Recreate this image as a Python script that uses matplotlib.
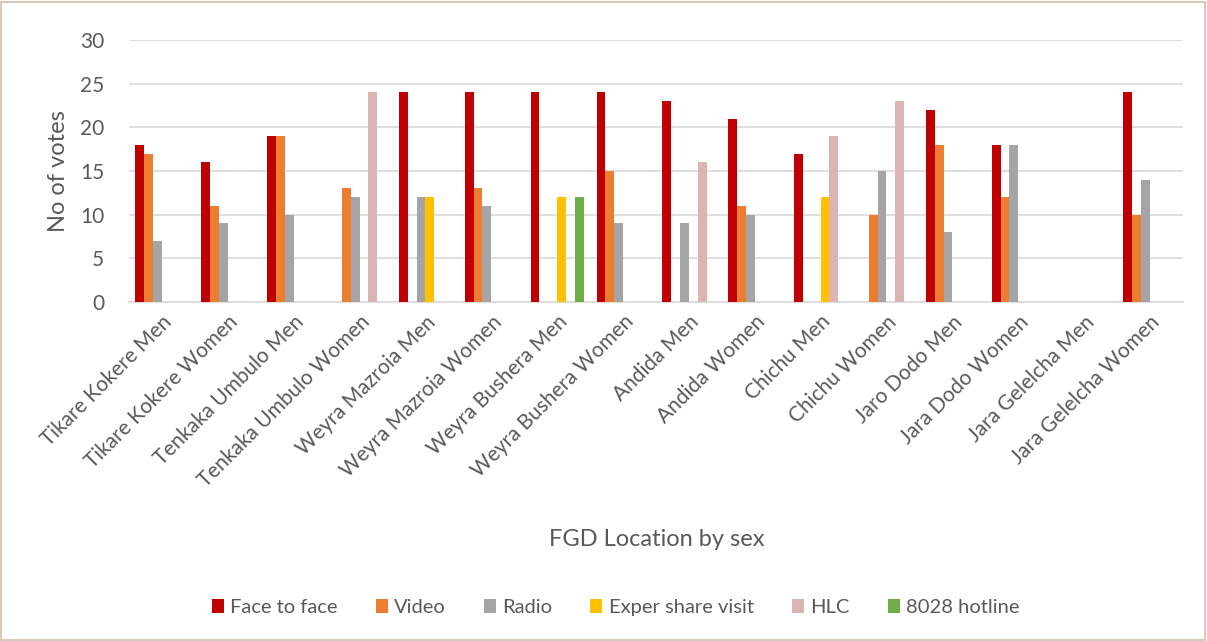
import numpy as np
import matplotlib.pyplot as plt
from matplotlib.patches import Rectangle

plt.rcParams['font.family'] = ['Lato', 'DejaVu Sans']

# ── Data ───────────────────────────────────────────────────────────────────────
locations = ["Tikare Kokere Men", "Tikare Kokere Women", "Tenkaka Umbulo Men",
             "Tenkaka Umbulo Women", "Weyra Mazroia Men", "Weyra Mazroia Women",
             "Weyra Bushera Men", "Weyra Bushera Women", "Andida Men",
             "Andida Women", "Chichu Men", "Chichu Women", "Jaro Dodo Men",
             "Jara Dodo Women", "Jara Gelelcha Men", "Jara Gelelcha Women"]

face_to_face = [18, 16, 19, 0, 24, 24, 24, 24, 23, 21, 17, 0, 22, 18, 0, 24]
video        = [17, 11, 19, 13, 0, 13, 0, 15, 0, 11, 0, 10, 18, 12, 0, 10]
radio        = [7, 9, 10, 12, 12, 11, 0, 9, 9, 10, 0, 15, 8, 18, 0, 14]
exper_visit  = [0, 0, 0, 0, 12, 0, 12, 0, 0, 0, 12, 0, 0, 0, 0, 0]
hlc          = [0, 0, 0, 24, 0, 0, 0, 0, 16, 0, 19, 23, 0, 0, 0, 0]
hotline_8028 = [0, 0, 0, 0, 0, 0, 12, 0, 0, 0, 0, 0, 0, 0, 0, 0]

series = [("Face to face", face_to_face, "#C00000"),
          ("Video", video, "#ED7D31"),
          ("Radio", radio, "#A5A5A5"),
          ("Exper share visit", exper_visit, "#FFC000"),
          ("HLC", hlc, "#DDB4B4"),
          ("8028 hotline", hotline_8028, "#70AD47")]

# ── Plotting ───────────────────────────────────────────────────────────────────
text_col = "#595959"
fig = plt.figure(figsize=(12.07, 6.41), dpi=100)
fig.patches.append(Rectangle((0.001, 0.002), 0.997, 0.995, transform=fig.transFigure,
                             fill=False, edgecolor="#D6CBB8", linewidth=1.5))
ax = fig.add_axes([0.1069, 0.5289, 0.8731, 0.4087])

x = np.arange(len(locations))
w = 0.134
for i, (name, vals, col) in enumerate(series):
    ax.bar(x + (i - 2.5) * w, vals, w, label=name, color=col, zorder=3)

ax.set_xlim(-0.5, len(locations) - 0.5)
ax.set_ylim(0, 30)
ax.set_yticks(range(0, 31, 5))
ax.grid(True, axis='y', color="#D9D9D9", linewidth=1.2, zorder=0)
for s in ["top", "right", "left"]:
    ax.spines[s].set_visible(False)
ax.spines["bottom"].set_color("#D9D9D9")
ax.spines["bottom"].set_linewidth(1.2)
ax.tick_params(axis='both', length=0, colors=text_col, labelsize=15)
ax.tick_params(axis='y', pad=18)
ax.set_xticks(x)
ax.set_xticklabels(locations, rotation=45, ha='right', rotation_mode='anchor')
ax.tick_params(axis='x', pad=7)

ax.set_ylabel("No of votes", fontsize=17, color=text_col, labelpad=8)
fig.text(0.544, 0.158, "FGD Location by sex", fontsize=17, color=text_col,
         ha='center', va='center')

ax.legend(loc='center', bbox_to_anchor=(0.51, 0.052), bbox_transform=fig.transFigure,
          ncol=6, frameon=False, fontsize=14.5, handlelength=0.6, handleheight=0.7,
          handletextpad=0.3, columnspacing=1.9, labelcolor=text_col)

plt.savefig("out.png", dpi=100)
plt.close()
